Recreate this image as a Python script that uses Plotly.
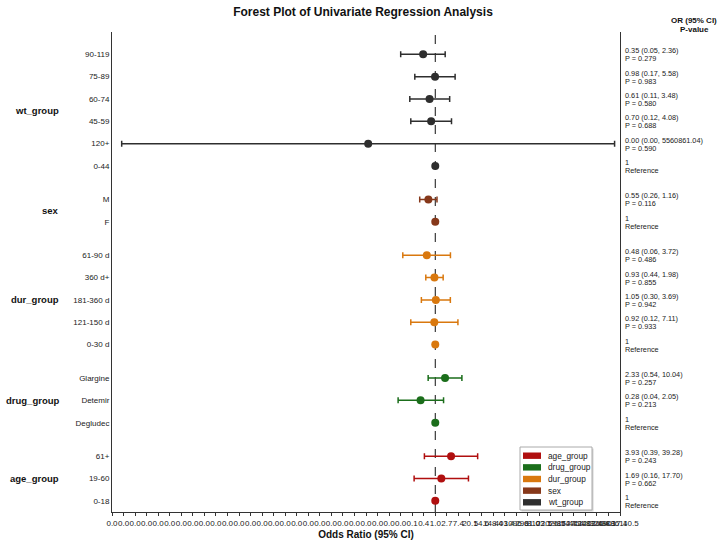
import numpy as np
import plotly.graph_objects as go

# ---------------- data ----------------
groups = ["age_group", "drug_group", "dur_group", "sex", "wt_group"]  # bottom -> top

age_labels = ["0-18", "19-60", "61+"]
age_or = [1.0, 1.69, 3.93]
age_lo = [1.0, 0.16, 0.39]
age_hi = [1.0, 17.70, 39.28]
age_p = [None, 0.662, 0.243]

drug_labels = ["Degludec", "Detemir", "Glargine"]
drug_or = [1.0, 0.28, 2.33]
drug_lo = [1.0, 0.04, 0.54]
drug_hi = [1.0, 2.05, 10.04]
drug_p = [None, 0.213, 0.257]

dur_labels = ["0-30 d", "121-150 d", "181-360 d", "360 d+", "61-90 d"]
dur_or = [1.0, 0.92, 1.05, 0.93, 0.48]
dur_lo = [1.0, 0.12, 0.30, 0.44, 0.06]
dur_hi = [1.0, 7.11, 3.69, 1.98, 3.72]
dur_p = [None, 0.933, 0.942, 0.855, 0.486]

sex_labels = ["F", "M"]
sex_or = [1.0, 0.55]
sex_lo = [1.0, 0.26]
sex_hi = [1.0, 1.16]
sex_p = [None, 0.116]

wt_labels = ["0-44", "120+", "45-59", "60-74", "75-89", "90-119"]
wt_or = [1.0, 0.003, 0.70, 0.61, 0.98, 0.35]
wt_lo = [1.0, 1.6e-12, 0.12, 0.11, 0.17, 0.05]
wt_hi = [1.0, 5560861.04, 4.08, 3.48, 5.58, 2.36]
wt_p = [None, 0.590, 0.688, 0.580, 0.983, 0.279]

tick_exponents = list(range(-28, 17))
legend_order = ["age_group", "drug_group", "dur_group", "sex", "wt_group"]

colors = {
    "age_group": "#B00F0F",
    "drug_group": "#1B6E1B",
    "dur_group": "#D9780E",
    "sex": "#86381A",
    "wt_group": "#2E2E2E",
}

data = {
    "age_group": (age_labels, age_or, age_lo, age_hi, age_p),
    "drug_group": (drug_labels, drug_or, drug_lo, drug_hi, drug_p),
    "dur_group": (dur_labels, dur_or, dur_lo, dur_hi, dur_p),
    "sex": (sex_labels, sex_or, sex_lo, sex_hi, sex_p),
    "wt_group": (wt_labels, wt_or, wt_lo, wt_hi, wt_p),
}

FONT = "Liberation Sans, Arial, sans-serif"
W, H = 726, 545
ML, MR, MT, MB = 112, 106, 32, 33
PW, PH = W - ML - MR, H - MT - MB


def px_x(px):
    return (px - ML) / PW


def px_y(py):
    return 1 - (py - MT) / PH


fig = go.Figure()
ytick_vals, ytick_text = [], []
annotations = []
shapes = []

pos = 0.0
for g in groups:
    labels, ors, los, his, ps = data[g]
    ys = [pos + i for i in range(len(labels))]
    ytick_vals += ys
    ytick_text += labels
    ors_a = np.array(ors)
    fig.add_trace(go.Scatter(
        x=ors, y=ys, mode="markers", name=g,
        marker=dict(size=8, color=colors[g], line=dict(width=0)),
        error_x=dict(type="data", symmetric=False,
                     array=list(np.array(his) - ors_a),
                     arrayminus=list(ors_a - np.array(los)),
                     color=colors[g], thickness=1.5, width=3),
        showlegend=False, hoverinfo="skip",
    ))
    # group label
    annotations.append(dict(
        x=0, xref="paper", xshift=-51, xanchor="right",
        y=float(np.mean(ys)), yref="y", yanchor="middle",
        text=f"<b>{g}</b>", showarrow=False,
        font=dict(size=9.5, color="#111", family=FONT)))
    # right-hand text (two lines)
    for y, o, lo, hi, p in zip(ys, ors, los, his, ps):
        if p is None:
            l1, l2 = "1", "Reference"
        else:
            l1, l2 = f"{o:.2f} ({lo:.2f}, {hi:.2f})", f"P = {p:.3f}"
        for txt, ysh in ((l1, 3.5), (l2, -4.5)):
            annotations.append(dict(
                x=1, xref="paper", xshift=3, xanchor="left",
                y=y, yref="y", yshift=ysh, yanchor="middle", align="left",
                text=txt, showarrow=False,
                font=dict(size=7.3, color="#222", family=FONT)))
    pos = ys[-1] + 1.5

# header of the right-hand column
annotations.append(dict(
    x=1, xref="paper", xshift=74, xanchor="center",
    y=1, yref="paper", yshift=12, yanchor="middle",
    text="<b>OR (95% CI)</b>", showarrow=False,
    font=dict(size=8, color="#111", family=FONT)))
annotations.append(dict(
    x=1, xref="paper", xshift=74, xanchor="center",
    y=1, yref="paper", yshift=3, yanchor="middle",
    text="<b>P-value</b>", showarrow=False,
    font=dict(size=8, color="#111", family=FONT)))

# reference line at OR = 1
shapes.append(dict(type="line", xref="x", yref="paper", x0=1, x1=1, y0=0, y1=1,
                   line=dict(color="#111", width=1, dash="dash"), layer="below"))

# legend box (matplotlib-style patches)
lx0, lx1, ly0, ly1 = 520, 592, 447, 510
shapes.append(dict(type="rect", xref="paper", yref="paper",
                   x0=px_x(lx0 + 1.5), x1=px_x(lx1 + 1.5),
                   y0=px_y(ly1 + 1.5), y1=px_y(ly0 + 1.5),
                   line=dict(width=0), fillcolor="rgba(0,0,0,0.18)"))
shapes.append(dict(type="rect", xref="paper", yref="paper",
                   x0=px_x(lx0), x1=px_x(lx1), y0=px_y(ly1), y1=px_y(ly0),
                   line=dict(color="#aaaaaa", width=1), fillcolor="white"))
for i, g in enumerate(legend_order):
    cy = 455.7 + i * 11.65
    shapes.append(dict(type="rect", xref="paper", yref="paper",
                       x0=px_x(523), x1=px_x(541),
                       y0=px_y(cy + 3.2), y1=px_y(cy - 3.2),
                       line=dict(width=0), fillcolor=colors[g]))
    annotations.append(dict(
        x=px_x(546), xref="paper", xanchor="left",
        y=px_y(cy), yref="paper", yanchor="middle",
        text=g, showarrow=False,
        font=dict(size=8.3, color="#222", family=FONT)))

ln10 = np.log(10)
fig.update_layout(
    width=W, height=H,
    margin=dict(l=ML, r=MR, t=MT, b=MB, autoexpand=False),
    paper_bgcolor="white", plot_bgcolor="white",
    font=dict(family=FONT, color="#222"),
    title=dict(text="<b>Forest Plot of Univariate Regression Analysis</b>",
               x=0.5, xref="container", xanchor="center",
               y=1 - 12 / H, yref="container", yanchor="middle",
               font=dict(size=12, color="#111", family=FONT)),
    xaxis=dict(type="log", automargin=False,
               range=[tick_exponents[0] / ln10, tick_exponents[-1] / ln10],
               tickvals=[float(np.exp(k)) for k in tick_exponents],
               ticktext=[f"{np.exp(k):.1f}" for k in tick_exponents],
               tickangle=0, ticks="outside", ticklen=3, tickcolor="#333",
               tickfont=dict(size=8, color="#222"),
               showline=True, linecolor="#333", linewidth=1,
               showgrid=False, zeroline=False,
               title=dict(text="<b>Odds Ratio (95% CI)</b>", standoff=4,
                          font=dict(size=10, color="#111"))),
    yaxis=dict(range=[-0.5, 21], tickvals=ytick_vals, ticktext=ytick_text,
               automargin=False,
               ticks="", showline=True, linecolor="#333", linewidth=1,
               mirror=True, showgrid=False, zeroline=False,
               tickfont=dict(size=8, color="#222")),
    showlegend=False,
    annotations=annotations,
    shapes=shapes,
)

fig.write_html("out.html")
